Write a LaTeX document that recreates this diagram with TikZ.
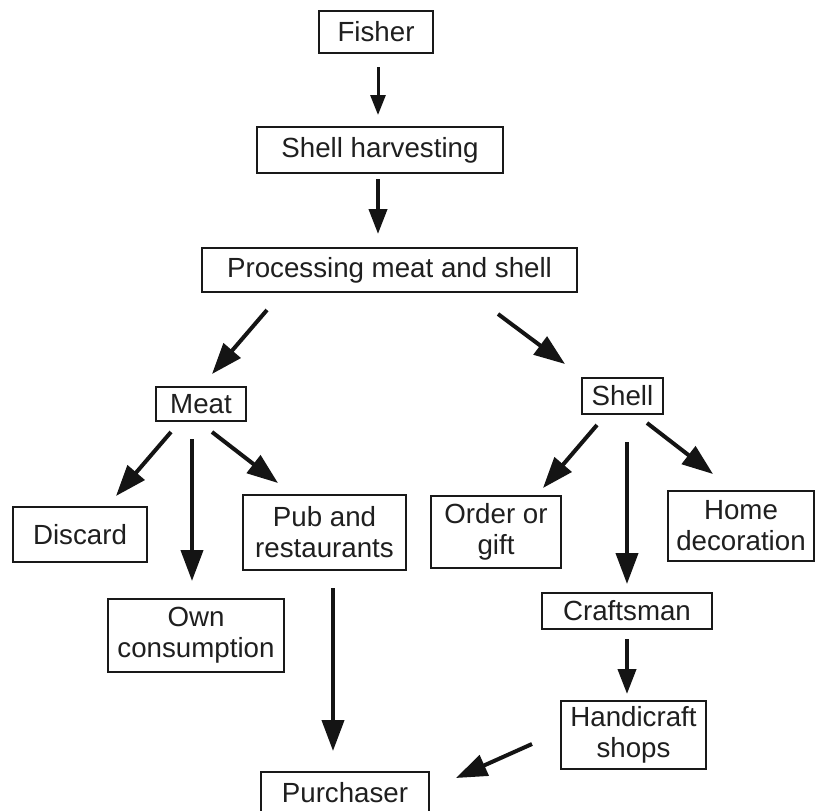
\documentclass[tikz,border=0pt]{standalone}
\usepackage{fontspec}
\setmainfont{Liberation Sans}
\usetikzlibrary{arrows.meta,calc}
\begin{document}
\begin{tikzpicture}[x=1pt,y=-1pt,
  box/.style={draw=black!90, line width=2pt, inner sep=0pt, align=center,
    text=black!88, font=\fontsize{27.7}{31}\selectfont},
  arr/.style={line width=4pt, draw=black!92, -{Triangle[length=31pt,width=22pt]}},
  arrs/.style={line width=3pt, draw=black!92, -{Triangle[length=20pt,width=15pt]}},
  arrm/.style={line width=4pt, draw=black!92, -{Triangle[length=25pt,width=18pt]}}]
\useasboundingbox[fill=white] (0,0) rectangle (817,811);

\node[box, minimum width=114pt, minimum height=42pt] (fisher) at (376,32) {Fisher};
\node[box, minimum width=246pt, minimum height=46pt] (harv) at (380,150) {Shell harvesting};
\node[box, minimum width=375pt, minimum height=44pt] (proc) at (389.5,270) {Processing meat and shell};
\node[box, minimum width=90pt, minimum height=34pt] (meat) at (201,404) {Meat};
\node[box, minimum width=81pt, minimum height=36pt] (shell) at (622.5,396) {Shell};
\node[box, minimum width=134pt, minimum height=55pt] (discard) at (80,534.5) {Discard};
\node[box, minimum width=176pt, minimum height=73pt] (own) at (196,635.5) {Own\\consumption};
\node[box, minimum width=163pt, minimum height=75pt] (pub) at (324.5,532.5) {Pub and\\restaurants};
\node[box, minimum width=130pt, minimum height=72pt] (order) at (496,532) {Order or\\gift};
\node[box, minimum width=146pt, minimum height=70pt] (home) at (741,526) {Home\\decoration};
\node[box, minimum width=170pt, minimum height=36pt] (craft) at (627,611) {Craftsman};
\node[box, minimum width=145pt, minimum height=68pt] (handi) at (633.5,735) {Handicraft\\shops};
\node[box, minimum width=168pt, minimum height=42pt] (purch) at (345,793) {Purchaser};

\draw[arrs] ($(fisher.south)+(2,13)$) -- ($(harv.north)+(-2,-11)$);
\draw[arrm] ($(harv.south)+(-2,5)$) -- ($(proc.north)+(-11.5,-13)$);
\draw[arr] ($(proc.south)+(-122.5,17)$) -- ($(meat.north)+(11,-12)$);
\draw[arr] ($(proc.south)+(108.5,21)$) -- ($(shell.north)+(-57.5,-13)$);
\draw[arr] ($(meat.south)+(-30,10)$) -- ($(discard.north)+(36,-10)$);
\draw[arr] ($(meat.south)+(-9,17)$) -- ($(own.north)+(-4,-17)$);
\draw[arr] ($(meat.south)+(11,10)$) -- ($(pub.north)+(-46.5,-11)$);
\draw[arr] ($(shell.south)+(-25.5,10)$) -- ($(order.north)+(47,-7)$);
\draw[arr] ($(shell.south)+(4.5,27)$) -- ($(craft.north)+(0,-8)$);
\draw[arr] ($(shell.south)+(24.5,8)$) -- ($(home.north)+(-28,-16)$);
\draw[arr] ($(pub.south)+(8.5,17)$) -- ($(purch.north)+(-12,-20)$);
\draw[arrm] ($(craft.south)+(0,9)$) -- ($(handi.north)+(-6.5,-6)$);
\draw[arr] ($(handi.west)+(-28,9)$) -- ($(purch.east)+(26,-15)$);
\end{tikzpicture}
\end{document}
